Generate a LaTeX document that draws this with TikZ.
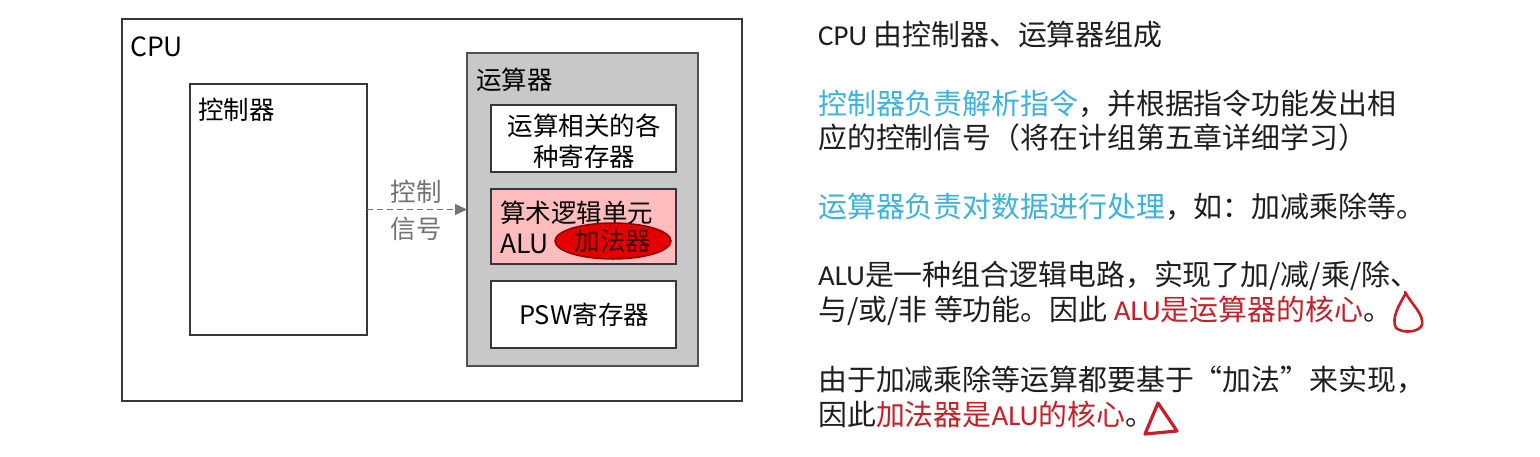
\documentclass[tikz,border=0pt]{standalone}
\usepackage{fontspec}
\setmainfont{Noto Sans CJK SC}
\newfontfamily\latinf{Carlito}
\usetikzlibrary{shapes.geometric,arrows.meta}
\definecolor{boxline}{RGB}{55,55,55}
\definecolor{grayfill}{RGB}{200,200,200}
\definecolor{grayline}{RGB}{80,80,80}
\definecolor{pinkfill}{RGB}{255,188,188}
\definecolor{adderfill}{RGB}{228,0,0}
\definecolor{adderline}{RGB}{140,0,0}
\definecolor{siggray}{RGB}{115,115,115}
\definecolor{txtblue}{RGB}{60,178,222}
\definecolor{txtred}{RGB}{200,30,40}
\definecolor{txtblack}{RGB}{30,30,30}
\begin{document}
\begin{tikzpicture}[x=1pt,y=-1pt,
  frame/.style={draw=boxline,line width=1.7pt,anchor=north west,inner sep=0pt,outer sep=0pt},
  whitebox/.style={frame,fill=white},
  dlabel/.style={anchor=west,inner sep=0pt,font=\fontsize{25.5}{31}\selectfont,text=black},
  rtext/.style={anchor=west,inner sep=0pt,font=\fontsize{28.9}{34}\selectfont,text=txtblack},
  sig/.style={draw=siggray,line width=1.5pt,dashed,dash pattern=on 6pt off 4pt,-{Triangle[length=12pt,width=11pt]}},
  hand/.style={draw=txtred,line width=2.6pt,line cap=round,line join=round}
]
\useasboundingbox (0,0) rectangle (1540,456);
\fill[white] (0,0) rectangle (1540,456);

% CPU outer box
\node[frame,minimum width=620pt,minimum height=382pt] (cpu) at (122,19) {};
\node[dlabel,font=\fontsize{26.5}{31}\selectfont] (cpulbl) at (130,47) {CPU};

% controller
\node[whitebox,minimum width=177pt,minimum height=251pt] (ctrl) at (190,84) {};
\node[dlabel] (ctrllbl) at (198,110) {控制器};

% ALU block (gray)
\node[frame,draw=grayline,fill=grayfill,minimum width=231pt,minimum height=313pt] (alublk) at (467,53) {};
\node[dlabel] (alulbl) at (476,80) {运算器};

% registers
\node[whitebox,minimum width=185pt,minimum height=67pt] (regs) at (491,105) {};
\node[dlabel,anchor=center,align=center] (regstxt) at (584,141) {运算相关的各\\种寄存器};

% arithmetic logic unit
\node[frame,fill=pinkfill,minimum width=185pt,minimum height=75pt] (aluunit) at (491,189) {};
\node[dlabel] (aluname) at (500,213) {算术逻辑单元};
\node[dlabel,font=\fontsize{26.5}{31}\selectfont] (alutxt) at (500,244) {ALU};
\node[ellipse,draw=adderline,line width=1.5pt,fill=adderfill,minimum width=116pt,minimum height=36pt,inner sep=0pt,
      font=\fontsize{25.5}{31}\selectfont,text=black!75!red] (adder) at (613,241) {加法器};

% PSW
\node[whitebox,minimum width=185pt,minimum height=67pt] (psw) at (491,281) {};
\node[dlabel,anchor=center] (pswtxt) at (584,315) {PSW寄存器};

% control signal
\draw[sig] (ctrl.east) -- (alublk.west);
\node[dlabel,anchor=center,align=center,text=siggray,font=\fontsize{25.5}{37}\selectfont] (siglbl) at (416,210) {控制\\信号};

% right-hand text
\node[rtext] (l1) at (818,35) {{\latinf CPU} 由控制器、运算器组成};
\node[rtext] (l2) at (818,104) {\textcolor{txtblue}{控制器负责解析指令}，并根据指令功能发出相};
\node[rtext] (l3) at (818,138) {应的控制信号（将在计组第五章详细学习）};
\node[rtext] (l4) at (818,207) {\textcolor{txtblue}{运算器负责对数据进行处理}，如：加减乘除等。};
\node[rtext] (l5) at (818,276) {{\latinf ALU}是一种组合逻辑电路，实现了加/减/乘/除、};
\node[rtext] (l6) at (818,311) {与/或/非 等功能。因此 \textcolor{txtred}{{\latinf ALU}是运算器的核心}。};
\node[rtext] (l7) at (818,380) {由于加减乘除等运算都要基于“加法”来实现，};
\node[rtext] (l8) at (818,414) {因此\textcolor{txtred}{加法器是{\latinf ALU}的核心}。};

% hand-drawn marks
\draw[hand] (1406,293) .. controls (1399,305) and (1391,318) .. (1396,328)
  .. controls (1404,334) and (1419,332) .. (1422,325)
  .. controls (1424,314) and (1412,305) .. (1405,292);
\draw[hand,line width=3.2pt] (1158,403) -- (1145,434) -- (1177,431) -- cycle;
\end{tikzpicture}
\end{document}
